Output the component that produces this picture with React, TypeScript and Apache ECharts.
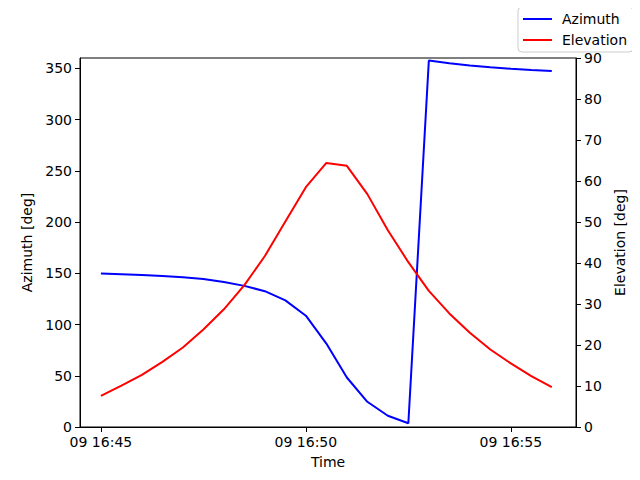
import { useEffect, useRef } from 'react';
import * as echarts from 'echarts';

const day = '09';
const times = [
  '16:45:00', '16:45:30', '16:46:00', '16:46:30', '16:47:00', '16:47:30',
  '16:48:00', '16:48:30', '16:49:00', '16:49:30', '16:50:00', '16:50:30',
  '16:51:00', '16:51:30', '16:52:00', '16:52:30', '16:53:00', '16:53:30',
  '16:54:00', '16:54:30', '16:55:00', '16:55:30', '16:56:00',
];
const azimuth = [
  149.7, 149.0, 148.2, 147.2, 146.0, 144.4, 141.5, 137.7, 132.5, 123.5,
  108.6, 81.4, 48.3, 24.6, 11.0, 3.6, 357.5, 354.8, 352.6, 350.9, 349.5,
  348.3, 347.3,
];
const elevation = [
  7.6, 10.1, 12.7, 15.9, 19.4, 23.8, 28.7, 34.6, 41.7, 50.1, 58.5, 64.4,
  63.7, 56.8, 48.0, 40.2, 33.2, 27.7, 23.0, 18.9, 15.5, 12.4, 9.7,
];
const timeTicks = ['16:45', '16:50', '16:55'];
const azimuthTicks = [0, 50, 100, 150, 200, 250, 300, 350];

const toMinutes = (t: string) => {
  const [h, m, s] = t.split(':').map(Number);
  return h * 60 + m + (s || 0) / 60;
};
const base = toMinutes(timeTicks[0]);
const pad2 = (n: number) => String(n).padStart(2, '0');

function App() {
  const chartRef = useRef<HTMLDivElement>(null);

  useEffect(() => {
    const chart = echarts.init(chartRef.current, null, { renderer: 'svg' });
    const font = 'DejaVu Sans';
    const xs = times.map((t) => toMinutes(t) - base);
    const tickXs = timeTicks.map((t) => toMinutes(t) - base);

    const option = {
      animation: false,
      textStyle: { fontFamily: font },
      grid: {
        left: 80,
        right: 64,
        top: 58,
        bottom: 53,
        show: true,
        borderColor: '#000',
        borderWidth: 1,
      },
      legend: {
        right: 7,
        top: 7,
        orient: 'vertical',
        icon: 'rect',
        itemWidth: 29,
        itemHeight: 2,
        itemGap: 7,
        padding: [5, 6, 5, 5],
        borderColor: '#cccccc',
        borderWidth: 1,
        borderRadius: 4,
        backgroundColor: 'rgba(255,255,255,0.8)',
        textStyle: { fontFamily: font, fontSize: 14, color: '#000', padding: [0, 0, 0, 5] },
        data: ['Azimuth', 'Elevation'],
      },
      xAxis: {
        type: 'value',
        min: -0.51,
        max: 11.59,
        name: 'Time',
        nameLocation: 'middle',
        nameGap: 28,
        nameTextStyle: { fontFamily: font, fontSize: 14, color: '#000' },
        axisLine: { onZero: false, lineStyle: { color: '#000', width: 1 } },
        axisTick: { customValues: tickXs, length: 5, lineStyle: { color: '#000' } },
        axisLabel: {
          customValues: tickXs,
          margin: 8,
          fontFamily: font,
          fontSize: 14,
          color: '#000',
          formatter: (v: number) => {
            const total = Math.round(base + v);
            return `${day} ${pad2(Math.floor(total / 60))}:${pad2(total % 60)}`;
          },
        },
        splitLine: { show: false },
      },
      yAxis: [
        {
          type: 'value',
          position: 'left',
          min: 0,
          max: 360,
          name: 'Azimuth [deg]',
          nameLocation: 'middle',
          nameRotate: 90,
          nameGap: 43,
          nameTextStyle: { fontFamily: font, fontSize: 14, color: '#000' },
          axisLine: { show: true, onZero: false, lineStyle: { color: '#000', width: 1 } },
          axisTick: { show: true, customValues: azimuthTicks, length: 5, lineStyle: { color: '#000' } },
          axisLabel: { customValues: azimuthTicks, margin: 8, fontFamily: font, fontSize: 14, color: '#000' },
          splitLine: { show: false },
        },
        {
          type: 'value',
          position: 'right',
          min: 0,
          max: 90,
          interval: 10,
          name: 'Elevation [deg]',
          nameLocation: 'middle',
          nameRotate: 90,
          nameGap: 32,
          nameTextStyle: { fontFamily: font, fontSize: 14, color: '#000' },
          axisLine: { show: true, onZero: false, lineStyle: { color: '#000', width: 1 } },
          axisTick: { show: true, length: 5, lineStyle: { color: '#000' } },
          axisLabel: { margin: 8, fontFamily: font, fontSize: 14, color: '#000' },
          splitLine: { show: false },
        },
      ],
      series: [
        {
          name: 'Azimuth',
          type: 'line',
          yAxisIndex: 0,
          showSymbol: false,
          color: '#0000ff',
          lineStyle: { color: '#0000ff', width: 2 },
          data: xs.map((x, i) => [x, azimuth[i]]),
        },
        {
          name: 'Elevation',
          type: 'line',
          yAxisIndex: 1,
          showSymbol: false,
          color: '#ff0000',
          lineStyle: { color: '#ff0000', width: 2 },
          data: xs.map((x, i) => [x, elevation[i]]),
        },
      ],
    };

    chart.setOption(option);
    return () => {
      chart.dispose();
    };
  }, []);

  return <div ref={chartRef} style={{ width: '640px', height: '480px', margin: '-8px' }}></div>;
}

export default App;
